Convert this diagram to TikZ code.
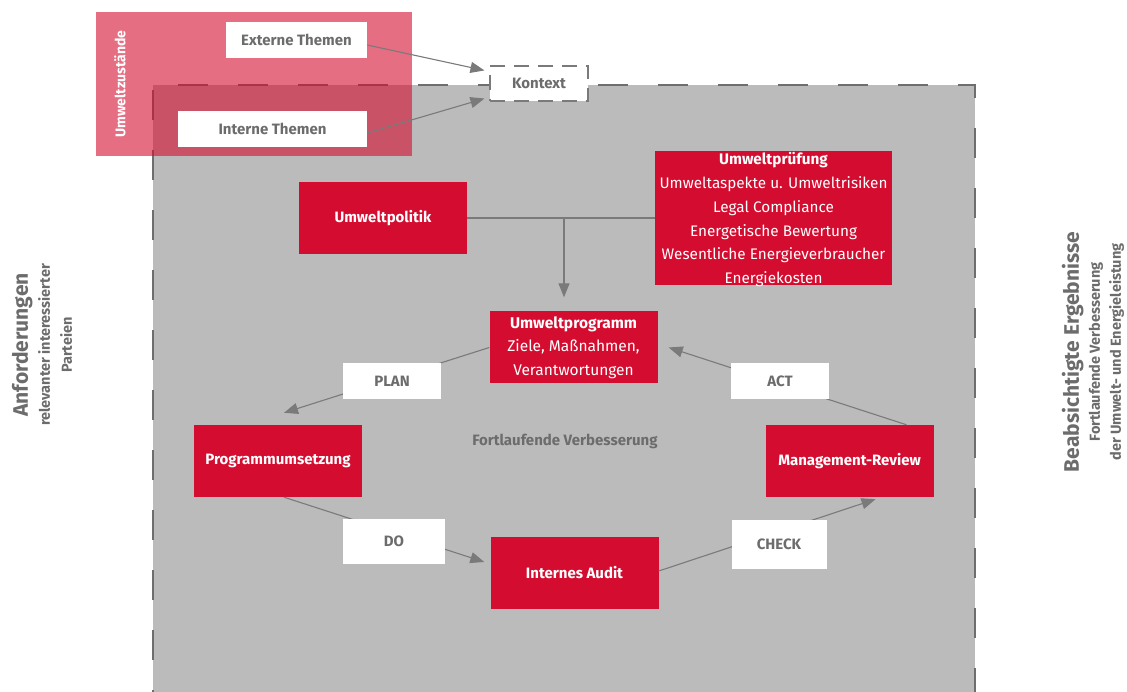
\documentclass[tikz,border=0pt]{standalone}
\usepackage{fontspec}
\setmainfont{Fira Sans}
\usetikzlibrary{arrows.meta}

\definecolor{umred}{RGB}{212,13,48}
\definecolor{umgray}{RGB}{187,187,187}
\definecolor{umtext}{RGB}{108,108,108}
\definecolor{umline}{RGB}{122,122,122}

\tikzset{
  redbox/.style={fill=umred, text=white, font=\bfseries\fontsize{15}{18}\selectfont,
                 minimum width=168pt, minimum height=72pt, inner sep=0pt},
  whitebox/.style={fill=white, text=umtext, font=\bfseries\fontsize{15}{18}\selectfont,
                   inner sep=0pt},
  link/.style={draw=umline, line width=1.1pt},
  tip/.style={-{Triangle[length=14pt,width=11pt]}},
}

\begin{document}
\begin{tikzpicture}[x=1pt,y=-1pt]
\useasboundingbox (0,0) rectangle (1127,692);
\clip (0,0) rectangle (1127,692);

%system boundary
\fill[umgray] (153,85) rectangle (975,720);
\draw[draw=umline!90!black, line width=2pt, dash pattern=on 30pt off 30pt]
  (153,720) -- (153,85) -- (975,85) -- (975,720);

%context
\fill[umred, opacity=0.6] (96,12) rectangle (412,156);
\node[rotate=90, text=white, font=\bfseries\fontsize{14}{16}\selectfont] (zustand) at (120,84) {Umweltzustände};
\node[whitebox, minimum width=141pt, minimum height=36pt] (extern) at (296.5,40) {Externe Themen};
\node[whitebox, minimum width=189pt, minimum height=36pt] (intern) at (272.5,129) {Interne Themen};
\node[whitebox, minimum width=98pt, minimum height=35pt, draw=umline, line width=1.1pt,
      dash pattern=on 15pt off 9pt] (kontext) at (539,83.5) {Kontext};
\draw[link, tip] ([yshift=-5pt]extern.east) -- ([xshift=-5pt,yshift=-5pt]kontext.north west);
\draw[link, tip] ([yshift=-4pt]intern.east) -- ([xshift=-5pt,yshift=3pt]kontext.south west);

%inputs
\node[redbox] (politik) at (383,218) {Umweltpolitik};
\node[redbox, minimum width=237pt, minimum height=134pt, align=center,
      font=\fontsize{15.3}{23.9}\selectfont] (pruefung) at (773.5,218)
  {\textbf{Umweltprüfung}\\Umweltaspekte u. Umweltrisiken\\Legal Compliance\\Energetische Bewertung\\Wesentliche Energieverbraucher\\\smash{Energiekosten}};
\draw[link] (politik) -- (pruefung.west |- politik.east);
\coordinate (join) at (564,218);

%cycle
\node[redbox, minimum height=72pt, align=center, font=\fontsize{15.5}{23.7}\selectfont] (programm) at (573.5,347.5)
  {\textbf{Umweltprogramm}\\Ziele, Maßnahmen,\\Verantwortungen};
\node[redbox] (umsetzung) at (278,461) {Programmumsetzung};
\node[redbox] (review) at (849.5,461) {Management-Review};
\node[redbox] (audit) at (574.5,573) {Internes Audit};

\draw[link, tip, shorten >=14pt] (join) -- (join |- programm.north);
\draw[link, tip] (programm.west) -- ([xshift=6pt,yshift=12pt]umsetzung.north);
\draw[link, tip] ([xshift=6pt]umsetzung.south) -- ([xshift=-6pt,yshift=11pt]audit.west);
\draw[link, tip] ([yshift=2pt]audit.east) -- ([xshift=26pt,yshift=-2pt]review.south);
\draw[link, tip] ([xshift=57pt]review.north) -- ([xshift=11pt]programm.east);

%phases
\node[whitebox, minimum width=98pt, minimum height=36pt] (plan) at (392,381) {PLAN};
\node[whitebox, minimum width=102pt, minimum height=45pt] (do) at (394,541.5) {DO};
\node[whitebox, minimum width=95pt, minimum height=49pt] (check) at (779,544.5) {CHECK};
\node[whitebox, minimum width=98pt, minimum height=36pt] (act) at (780,381) {ACT};
\node[text=umtext, font=\bfseries\fontsize{15}{18}\selectfont] (verbesserung) at (565,441) {Fortlaufende Verbesserung};

%side labels
\node[rotate=90, align=center, text=umtext, font=\bfseries\fontsize{14.5}{22}\selectfont] (anforderung) at (42,345)
  {{\fontsize{21}{22}\selectfont Anforderungen}\\relevanter interessierter\\Parteien};
\node[rotate=90, align=center, text=umtext, font=\bfseries\fontsize{14.5}{21}\selectfont] (ergebnis) at (1093,352)
  {{\fontsize{21}{25}\selectfont Beabsichtigte Ergebnisse}\\Fortlaufende Verbesserung\\der Umwelt- und Energieleistung};
\end{tikzpicture}
\end{document}
